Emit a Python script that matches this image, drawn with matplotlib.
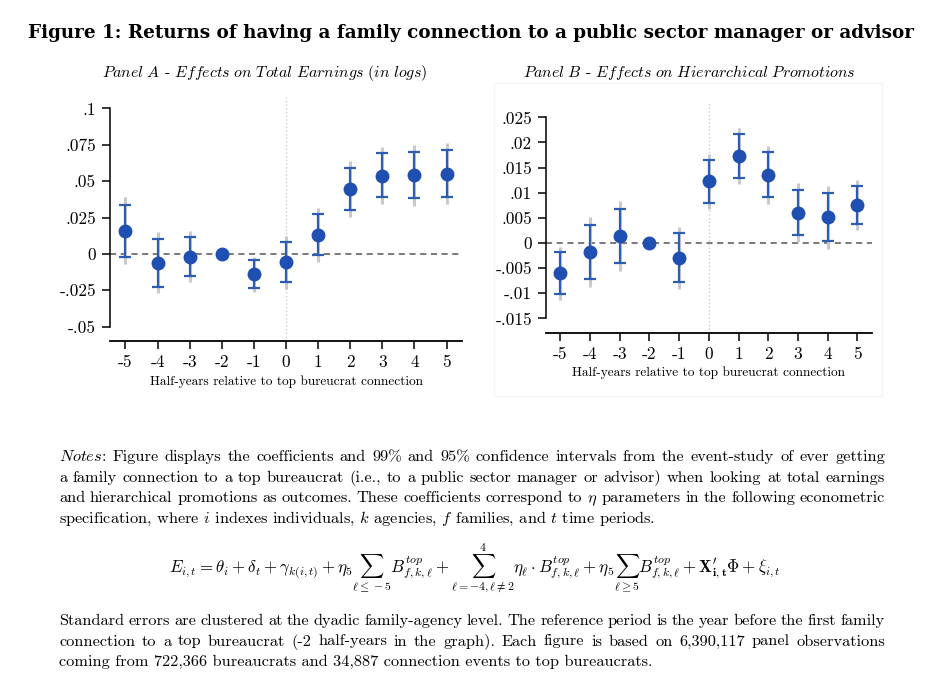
import matplotlib
matplotlib.use('Agg')
import matplotlib.pyplot as plt
import numpy as np
from matplotlib.patches import Rectangle

plt.rcParams['font.family'] = ['cmr10']
plt.rcParams['mathtext.fontset'] = 'cm'
plt.rcParams['axes.formatter.use_mathtext'] = True

# event time (half-years relative to connection), -2 is the reference period
periods = [-5, -4, -3, -2, -1, 0, 1, 2, 3, 4, 5]

# Panel A - total earnings (logs)
coef_a = [0.0160, -0.0062, -0.0018, 0.0, -0.0137, -0.0057, 0.0133, 0.0444, 0.0538, 0.0540, 0.0551]
lo95_a = [-0.0018, -0.0224, -0.0151, np.nan, -0.0236, -0.0195, -0.0007, 0.0300, 0.0391, 0.0384, 0.0394]
hi95_a = [0.0339, 0.0101, 0.0117, np.nan, -0.0041, 0.0080, 0.0272, 0.0590, 0.0691, 0.0703, 0.0712]
lo99_a = [-0.0069, -0.0270, -0.0190, np.nan, -0.0263, -0.0243, -0.0053, 0.0252, 0.0343, 0.0332, 0.0341]
hi99_a = [0.0390, 0.0149, 0.0158, np.nan, -0.0018, 0.0124, 0.0318, 0.0638, 0.0737, 0.0748, 0.0760]

# Panel B - hierarchical promotions
coef_b = [-0.0060, -0.0017, 0.0014, 0.0, -0.0030, 0.0123, 0.0173, 0.0136, 0.0060, 0.0052, 0.0076]
lo95_b = [-0.0101, -0.0071, -0.0040, np.nan, -0.0078, 0.0080, 0.0130, 0.0091, 0.0015, 0.0004, 0.0037]
hi95_b = [-0.0018, 0.0036, 0.0068, np.nan, 0.0019, 0.0166, 0.0216, 0.0181, 0.0105, 0.0099, 0.0113]
lo99_b = [-0.0113, -0.0087, -0.0056, np.nan, -0.0092, 0.0067, 0.0117, 0.0078, 0.0001, -0.0011, 0.0025]
hi99_b = [-0.0007, 0.0052, 0.0084, np.nan, 0.0032, 0.0178, 0.0229, 0.0194, 0.0119, 0.0113, 0.0125]

yticks_a = [-0.05, -0.025, 0, 0.025, 0.05, 0.075, 0.1]
ytlabels_a = ['-.05', '-.025', '0', '.025', '.05', '.075', '.1']
yticks_b = [-0.015, -0.01, -0.005, 0, 0.005, 0.01, 0.015, 0.02, 0.025]
ytlabels_b = ['-.015', '-.01', '-.005', '0', '.005', '.01', '.015', '.02', '.025']

W, H = 943, 686
BLUE = '#1f4fb0'
CIBLUE = '#2d5cb5'
GRAY = '#c9c9c9'

fig = plt.figure(figsize=(W / 100, H / 100), dpi=100)


def px(x, y):
    return x / W, 1 - y / H


def panel(rect, coef, lo95, hi95, lo99, hi99, ylim, yticks, ytlabels):
    ax = fig.add_axes(rect)
    x = np.array(periods)
    ax.vlines(x, lo99, hi99, color=GRAY, lw=2.2, zorder=2)
    ax.errorbar(x, coef, yerr=[np.array(coef) - np.array(lo95), np.array(hi95) - np.array(coef)],
                fmt='none', ecolor=CIBLUE, elinewidth=1.6, capsize=4.5, capthick=1.6, zorder=3)
    ax.plot(x, coef, 'o', color=BLUE, ms=9, zorder=4)
    ax.axhline(0, color='#555555', lw=1.1, ls=(0, (4, 3)), zorder=1)
    ax.axvline(0, color='#cccccc', lw=1, ls=':', zorder=1)
    ax.set_xlim(-5.48, 5.48)
    ax.set_ylim(*ylim)
    ax.set_xticks(periods)
    ax.set_xticklabels([str(p) for p in periods])
    ax.set_yticks(yticks)
    ax.set_yticklabels(ytlabels)
    for s in ['top', 'right']:
        ax.spines[s].set_visible(False)
    ax.spines['left'].set_bounds(yticks[0], yticks[-1])
    ax.spines['left'].set_linewidth(1.1)
    ax.spines['bottom'].set_linewidth(1.3)
    ax.tick_params(axis='both', direction='out', length=6, width=1.1, labelsize=12.5, pad=4)
    ax.set_facecolor('none')
    return ax


# faint graph-region border behind panel B
fig.patches.append(Rectangle(px(494, 396), 388 / W, 313 / H, transform=fig.transFigure,
                             fill=False, edgecolor='#f5f5f5', lw=1, zorder=0))

panel([110 / W, 1 - 340.7 / H, 352 / W, 244 / H], coef_a, lo95_a, hi95_a, lo99_a, hi99_a,
      (-0.0596, 0.108), yticks_a, ytlabels_a)
panel([546 / W, 1 - 332.7 / H, 325.7 / W, 229.4 / H], coef_b, lo95_b, hi95_b, lo99_b, hi99_b,
      (-0.01785, 0.0278), yticks_b, ytlabels_b)

# titles and axis labels
fig.text(*px(471, 38), 'Figure 1: Returns of having a family connection to a public sector manager or advisor',
         family='DejaVu Serif', weight='bold', fontsize=13.2, ha='center', va='baseline')
fig.text(*px(265, 77), r'$\mathit{Panel\ A}$ - $\mathit{Effects\ on\ Total\ Earnings\ (in\ logs)}$',
         fontsize=11.45, ha='center', va='baseline')
fig.text(*px(689, 77), r'$\mathit{Panel\ B}$ - $\mathit{Effects\ on\ Hierarchical\ Promotions}$',
         fontsize=11.45, ha='center', va='baseline')
fig.text(*px(286, 385), 'Half-years relative to top bureucrat connection', fontsize=9.6,
         ha='center', va='baseline')
fig.text(*px(709, 376), 'Half-years relative to top bureucrat connection', fontsize=9.6,
         ha='center', va='baseline')

# notes, justified line by line
renderer = fig.canvas.get_renderer()
BODY = 11.75
X0, X1 = 59, 885


def text_line(line, y, justify=True):
    words = line.split(' ')
    if not justify:
        fig.text(*px(X0, y), line, fontsize=BODY, ha='left', va='baseline')
        return
    ts = [fig.text(0, 0, w, fontsize=BODY, ha='left', va='baseline') for w in words]
    widths = [t.get_window_extent(renderer).width for t in ts]
    gap = (X1 - X0 - sum(widths)) / (len(words) - 1)
    x = X0
    for t, w in zip(ts, widths):
        t.set_position(px(x, y))
        x += w + gap


notes1 = [
    r'$\mathit{Notes}$: Figure displays the coefficients and 99% and 95% confidence intervals from the event-study of ever getting',
    'a family connection to a top bureaucrat (i.e., to a public sector manager or advisor) when looking at total earnings',
    r'and hierarchical promotions as outcomes. These coefficients correspond to $\eta$ parameters in the following econometric',
    r'specification, where $i$ indexes individuals, $k$ agencies, $f$ families, and $t$ time periods.',
]
notes2 = [
    'Standard errors are clustered at the dyadic family-agency level. The reference period is the year before the first family',
    'connection to a top bureaucrat (-2 half-years in the graph). Each figure is based on 6,390,117 panel observations',
    'coming from 722,366 bureaucrats and 34,887 connection events to top bureaucrats.',
]
for i, line in enumerate(notes1):
    text_line(line, 461 + 20.7 * i, justify=i < 3)
for i, line in enumerate(notes2):
    text_line(line, 625 + 20.5 * i, justify=i < 2)

eq = (r'$E_{i,t}=\theta_i+\delta_t+\gamma_{k(i,t)}+\eta_5\sum_{\ell\leq-5}B^{top}_{f,k,\ell}+'
      r'\sum_{\ell=-4,\ell\neq2}^{4}\eta_\ell\cdot B^{top}_{f,k,\ell}+\eta_5\sum_{\ell\geq5}B^{top}_{f,k,\ell}+'
      r'\mathbf{X}^{\prime}_{\mathbf{i,t}}\mathbf{\Phi}+\xi_{i,t}$')
fig.text(*px(475, 572), eq, fontsize=12.2, ha='center', va='baseline')

fig.savefig('out.png', dpi=100)
